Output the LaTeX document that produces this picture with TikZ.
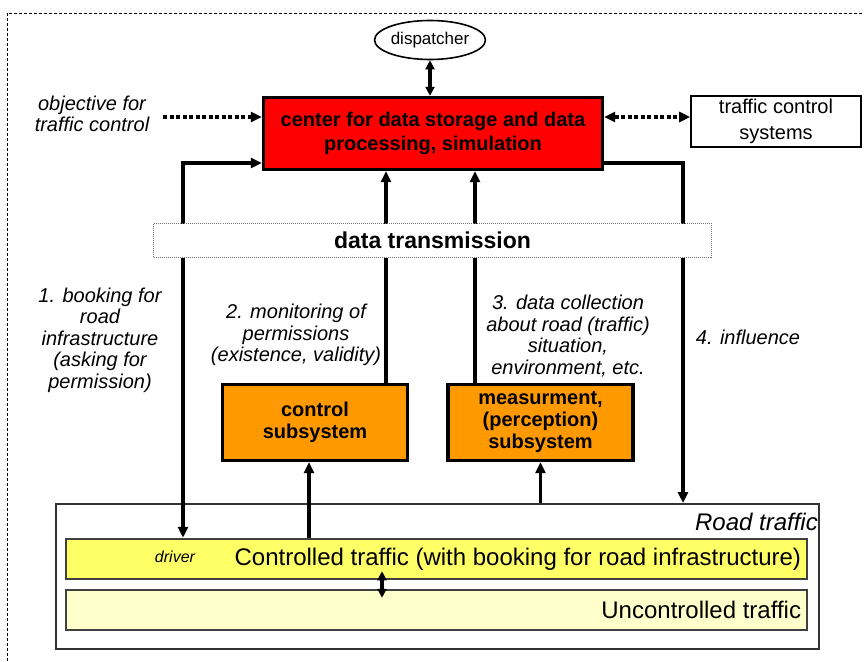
\documentclass[tikz,border=0pt]{standalone}
\usepackage{fontspec}
\setmainfont{Liberation Sans}
\usetikzlibrary{arrows.meta}
\usetikzlibrary{shapes.geometric}
\usetikzlibrary{calc}

\definecolor{centerred}{RGB}{255,0,0}
\definecolor{suborange}{RGB}{255,153,0}
\definecolor{ctlyellow}{RGB}{255,255,102}
\definecolor{unclight}{RGB}{255,255,204}
\newcommand{\setfs}[2]{\fontsize{#1}{#2}\selectfont}

\begin{document}
\begin{tikzpicture}[x=1pt,y=-1pt,
	>={Triangle[length=11pt,width=10pt]},
	flow/.style={line width=3.4pt},
	dotflow/.style={line width=4.5pt,dash pattern=on 4pt off 2.5pt},
	hub/.style={draw,line width=3.4pt,fill=centerred,minimum width=339pt,minimum height=72pt,align=center,font=\setfs{20}{24}\bfseries},
	subbox/.style={draw,line width=3.4pt,fill=suborange,minimum width=185pt,minimum height=76pt,align=center,font=\setfs{20}{22}\bfseries},
	lane/.style={draw=black!75,line width=2.5pt,minimum width=741pt,minimum height=40pt},
	note/.style={align=center,inner sep=0pt,font=\setfs{20}{21.5}\itshape},
	big/.style={inner sep=0pt,font=\setfs{24}{26}}]
	\useasboundingbox (0,0) rectangle (864,661);
	
	% frame
	\draw[line width=0.9pt,dash pattern=on 3pt off 2pt] (7,661) |- (864,13);
	
	% boxes
	\node[hub] (center) at (433,133.5) {center for data storage and data\\processing, simulation};
	\node[draw,ellipse,line width=1.6pt,minimum width=107pt,minimum height=39pt,inner sep=0pt,font=\setfs{17}{19}] (disp) at (430,40) {dispatcher};
	\node[draw,line width=1.6pt,minimum width=170pt,minimum height=51pt,align=center,font=\setfs{20}{26}] (tcs) at (776,121.5) {traffic control\\systems};
	\node[note] (obj) at (92,114) {objective for\\traffic control};
	\node[subbox] (ctrl) at (315,422.5) {control\\subsystem};
	\node[subbox] (meas) at (540.5,422.5) {measurment,\\(perception)\\subsystem};
	\node[draw=black!80,line width=2pt,minimum width=763pt,minimum height=145pt] (road) at (437.5,576.5) {};
	\node[lane,fill=ctlyellow] (ctl) at (436.5,559) {};
	\node[lane,fill=unclight] (unc) at (436.5,610) {};
	
	% free ends
	\coordinate (objtip) at (163,117);
	\coordinate (bk) at (183,163);
	\coordinate (inf) at (683,163);
	\coordinate (mon) at (386,0);
	\coordinate (col) at (475,0);
	\coordinate (ent) at (309,0);
	\coordinate (swap) at (382,0);
	
	% connections
	\draw[flow,<->,>={Triangle[length=9pt,width=9pt]}] (disp.south) -- (disp.south |- center.north);
	\draw[dotflow,->] (objtip) -- (center.west |- objtip);
	\draw[dotflow,<->] (center.east |- objtip) -- (tcs.west |- objtip);
	\draw[flow,<->] (center.west |- bk) -| (ctl.north -| bk);
	\draw[flow,->] (center.east |- inf) -| (road.north -| inf);
	\draw[flow,->] (ctrl.north -| mon) -- (center.south -| mon);
	\draw[flow,->] (meas.north -| col) -- (center.south -| col);
	\draw[flow,->] (ctl.north -| ent) -- (ctrl.south -| ent);
	\draw[flow,->] (road.north -| meas.south) -- (meas.south);
	\draw[flow,<->,>={Triangle[length=9pt,width=9pt]},shorten <=-9pt,shorten >=-9pt] (ctl.south -| swap) -- (unc.north -| swap);
	
	% data transmission
	\node[draw=black!55,fill=white,line width=1pt,densely dotted,minimum width=558pt,minimum height=34pt,font=\setfs{23}{25}\bfseries] (trans) at (432.5,240.5) {data transmission};
	
	% labels
	\node[note] (lab1) at (100,340) {1. booking for\\road\\infrastructure\\(asking for\\permission)};
	\node[note] (lab2) at (296,335) {2. monitoring of\\permissions\\(existence, validity)};
	\node[note] (lab3) at (568,336) {3. data collection\\about road (traffic)\\situation,\\environment, etc.};
	\node[note] (lab4) at (748,337) {4. influence};
	\node[big,font=\setfs{24}{26}\itshape,anchor=east] (roadlbl) at (818,522) {Road traffic};
	\node[note,font=\setfs{16}{18}\itshape] (driver) at (175,557) {driver};
	\node[big,anchor=east] (ctltxt) at ([xshift=-7pt]ctl.east) {Controlled traffic (with booking for road infrastructure)};
	\node[big,anchor=east] (unctxt) at ([xshift=-7pt]unc.east) {Uncontrolled traffic};
\end{tikzpicture}
\end{document}
